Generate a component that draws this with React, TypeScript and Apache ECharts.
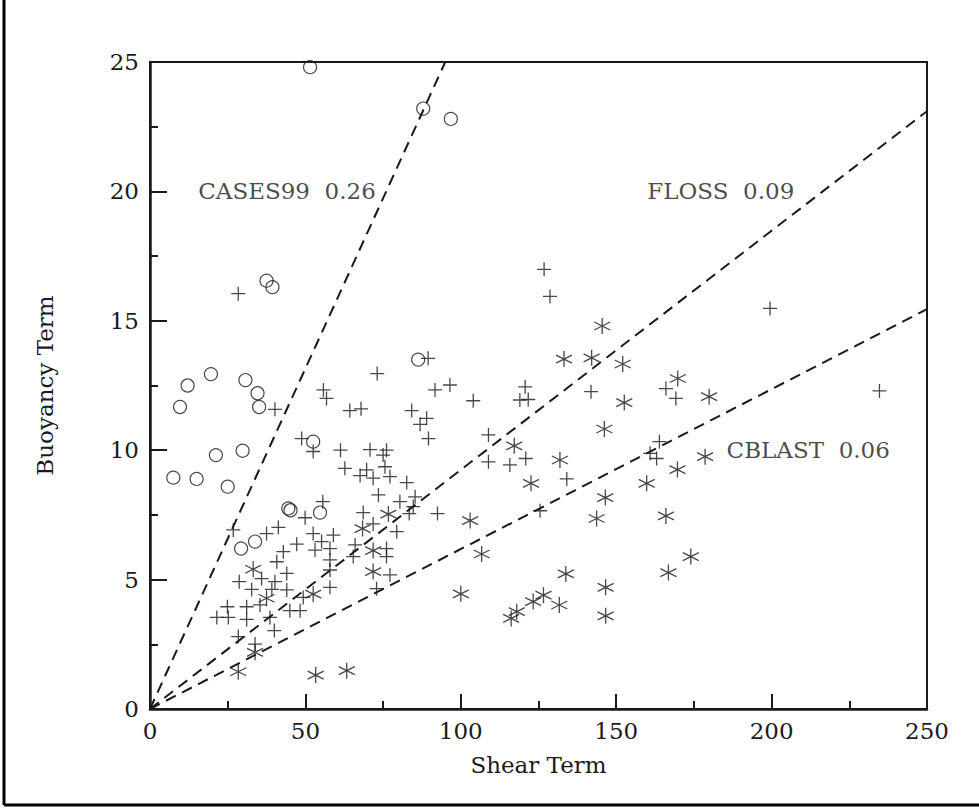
import React, { useEffect, useRef } from "react";
import * as echarts from "echarts";

const xTicks = [0, 50, 100, 150, 200, 250];
const yTicks = [0, 5, 10, 15, 20, 25];

const cases99: number[][] = [
  [51.5, 24.8], [87.9, 23.2], [96.8, 22.8], [37.5, 16.55], [39.4, 16.3], [86.3, 13.5],
  [19.6, 12.94], [12.1, 12.5], [9.65, 11.67], [30.7, 12.71], [34.6, 12.2], [35.1, 11.67],
  [52.5, 10.33], [21.2, 9.81], [29.8, 9.98], [7.5, 8.94], [15.0, 8.89], [25.0, 8.59],
  [44.5, 7.75], [45.2, 7.68], [54.7, 7.59], [33.8, 6.47], [29.3, 6.2],
];

const floss: number[][] = [
  [28.4, 16.05], [89.5, 13.55], [73.1, 12.96], [55.8, 12.33], [56.8, 12.0], [91.7, 12.33],
  [96.5, 12.52], [40.2, 11.58], [64.3, 11.53], [67.9, 11.6], [84.2, 11.53], [89.0, 11.23],
  [86.9, 11.0], [89.6, 10.45], [48.8, 10.45], [52.5, 9.95], [61.3, 10.0], [70.8, 10.02],
  [76.1, 10.0], [75.0, 9.81], [62.7, 9.3], [69.7, 9.24], [67.6, 9.02], [71.8, 8.92],
  [75.6, 9.36], [77.2, 8.98], [82.6, 8.75], [73.5, 8.27], [80.4, 8.01], [85.3, 8.2],
  [84.7, 7.82], [83.4, 7.55], [92.5, 7.55], [55.6, 8.01], [49.9, 7.39], [68.6, 7.59],
  [71.8, 7.15], [79.4, 6.85], [26.8, 6.92], [37.5, 6.78], [41.3, 7.02], [52.5, 6.78],
  [59.0, 6.72], [55.2, 6.47], [47.2, 6.37], [42.9, 6.08], [53.1, 6.14], [57.9, 6.2],
  [66.0, 6.34], [65.4, 5.89], [57.9, 5.76], [76.1, 6.2], [76.1, 5.89], [40.8, 5.69],
  [44.0, 5.24], [57.9, 5.37], [77.2, 5.18], [28.7, 4.92], [35.9, 5.04], [40.2, 4.92],
  [32.7, 4.62], [44.0, 4.6], [39.2, 4.62], [57.9, 4.7], [72.9, 4.65], [49.3, 4.31],
  [24.9, 3.95], [31.1, 3.95], [35.4, 4.02], [45.0, 3.8], [48.3, 3.8], [21.5, 3.54],
  [25.2, 3.54], [31.1, 3.46], [38.6, 3.54], [40.0, 3.03], [28.4, 2.8], [33.8, 2.51],
  [126.8, 16.99], [128.7, 15.94], [120.7, 12.45], [119.0, 11.94], [121.7, 11.96],
  [104.0, 11.91], [141.9, 12.26], [166.0, 12.38], [169.2, 12.0], [108.9, 10.59],
  [108.9, 9.55], [115.8, 9.43], [120.9, 9.68], [163.9, 10.33], [160.9, 9.88], [163.0, 9.68],
  [134.1, 8.89], [125.5, 7.66], [199.5, 15.48], [234.7, 12.29],
];

const cblast: number[][] = [
  [33.2, 5.4], [37.5, 4.28], [52.5, 4.44], [68.4, 6.97], [76.7, 7.53], [71.8, 6.12],
  [71.8, 5.31], [33.8, 2.19], [28.4, 1.44], [53.3, 1.31], [63.3, 1.48], [100.0, 4.45],
  [103.0, 7.28], [145.5, 14.8], [133.2, 13.52], [142.1, 13.57], [152.1, 13.33],
  [169.8, 12.77], [179.9, 12.07], [152.6, 11.84], [146.2, 10.82], [117.2, 10.17],
  [131.9, 9.62], [178.6, 9.75], [122.6, 8.72], [146.5, 8.17], [159.8, 8.72], [169.7, 9.25],
  [143.7, 7.36], [166.0, 7.46], [106.7, 5.99], [133.8, 5.22], [174.0, 5.89], [166.8, 5.27],
  [146.6, 4.7], [126.6, 4.4], [123.3, 4.15], [131.7, 4.02], [118.0, 3.76], [116.2, 3.5],
  [146.6, 3.6],
];

// fit lines through the origin (end points)
const cases99Line: number[][] = [[0, 0], [95, 25]];
const flossLine: number[][] = [[0, 0], [250, 23.1]];
const cblastLine: number[][] = [[0, 0], [250, 15.45]];

const fitLabels = [
  { text: "CASES99  0.26", x: 15.5, y: 20 },
  { text: "FLOSS  0.09", x: 160, y: 20 },
  { text: "CBLAST  0.06", x: 185.5, y: 10 },
];

const FONT = "DejaVu Serif";
const INK = "#1a1a1a";
const FS = 23;

const PLUS = "path://M0,5 L10,5 M5,0 L5,10";
const STAR = "path://M5,0 L5,10 M0.7,2.5 L9.3,7.5 M0.7,7.5 L9.3,2.5";

export default function App() {
  const ref = useRef<HTMLDivElement>(null);
  useEffect(() => {
    if (!ref.current) return;
    const chart = echarts.init(ref.current, null, { renderer: "svg" });
    const dashed = (data: number[][]) => ({
      type: "line",
      data,
      showSymbol: false,
      symbol: "none",
      silent: true,
      lineStyle: { color: INK, width: 2, type: [11, 7] },
      z: 1,
    });
    chart.setOption({
      animation: false,
      backgroundColor: "#ffffff",
      grid: {
        left: 150,
        top: 62,
        right: 52,
        bottom: 100,
        show: true,
        borderColor: INK,
        borderWidth: 2,
        backgroundColor: "transparent",
      },
      xAxis: {
        type: "value",
        min: 0,
        max: 250,
        interval: 50,
        name: "Shear Term",
        nameLocation: "middle",
        nameGap: 44,
        nameTextStyle: { fontFamily: FONT, fontSize: FS, color: INK },
        axisLine: { show: true, onZero: false, lineStyle: { color: INK, width: 2.5 } },
        axisTick: { show: true, inside: true, length: 15, lineStyle: { color: INK, width: 2 } },
        minorTick: { show: true, splitNumber: 2, length: 8, lineStyle: { color: INK, width: 2 } },
        splitLine: { show: false },
        axisLabel: {
          fontFamily: FONT,
          fontSize: FS,
          color: INK,
          margin: 10,
          formatter: (v: number) => (xTicks.includes(v) ? String(v) : ""),
        },
      },
      yAxis: {
        type: "value",
        min: 0,
        max: 25,
        interval: 5,
        name: "Buoyancy Term",
        nameLocation: "middle",
        nameGap: 94,
        nameTextStyle: { fontFamily: FONT, fontSize: FS, color: INK },
        axisLine: { show: true, onZero: false, lineStyle: { color: INK, width: 2.5 } },
        axisTick: { show: true, inside: true, length: 17, lineStyle: { color: INK, width: 2 } },
        minorTick: { show: true, splitNumber: 2, length: 8, lineStyle: { color: INK, width: 2 } },
        splitLine: { show: false },
        axisLabel: {
          fontFamily: FONT,
          fontSize: FS,
          color: INK,
          margin: 11,
          formatter: (v: number) => (yTicks.includes(v) ? String(v) : ""),
        },
      },
      series: [
        dashed(cases99Line),
        dashed(flossLine),
        dashed(cblastLine),
        {
          type: "scatter",
          name: "CASES99",
          data: cases99,
          symbol: "circle",
          symbolSize: 13,
          itemStyle: { color: "rgba(0,0,0,0)", borderColor: INK, borderWidth: 1.2 },
          z: 3,
        },
        {
          type: "scatter",
          name: "FLOSS",
          data: floss,
          symbol: PLUS,
          symbolSize: 14,
          itemStyle: { color: "rgba(0,0,0,0)", borderColor: INK, borderWidth: 1.3 },
          z: 3,
        },
        {
          type: "scatter",
          name: "CBLAST",
          data: cblast,
          symbol: STAR,
          symbolSize: 16,
          itemStyle: { color: "rgba(0,0,0,0)", borderColor: INK, borderWidth: 1.3 },
          z: 3,
        },
        {
          type: "scatter",
          name: "labels",
          data: fitLabels.map((l) => [l.x, l.y, l.text]),
          symbolSize: 0,
          silent: true,
          label: {
            show: true,
            position: "inside",
            formatter: (p: any) => p.data[2],
            fontFamily: FONT,
            fontSize: FS,
            color: INK,
            align: "left",
            verticalAlign: "middle",
          },
          z: 4,
        },
      ],
      graphic: [
        { type: "line", shape: { x1: 4, y1: 0, x2: 4, y2: 805 }, style: { stroke: "#000", lineWidth: 3 } },
        { type: "line", shape: { x1: 4, y1: 805, x2: 979, y2: 805 }, style: { stroke: "#000", lineWidth: 3 } },
      ],
    });
    return () => chart.dispose();
  }, []);
  return (
    <div
      ref={ref}
      style={{ position: "fixed", left: 0, top: 0, width: 979, height: 809, background: "#fff" }}
    />
  );
}
